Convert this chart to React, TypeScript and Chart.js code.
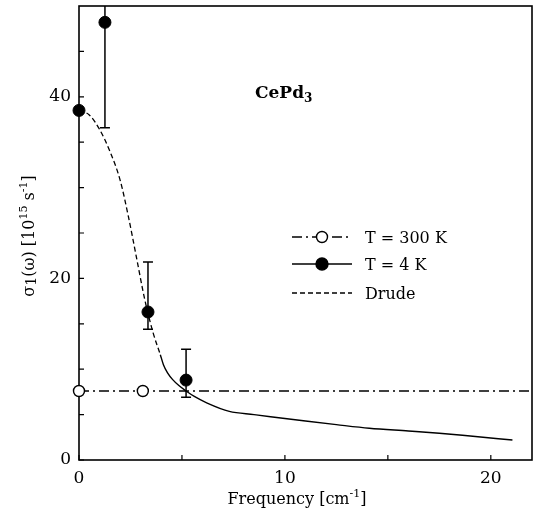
import React, { useEffect, useRef } from 'react';
import { Chart, registerables } from 'chart.js';

Chart.register(...registerables);

// Optical conductivity of CePd3: far-infrared points at 300 K and 4 K,
// the Drude fit at the lowest frequencies and the 4 K curve above it.
const freq300K = [0, 3.1];
const sigma300K = [7.6, 7.6];

const freq4K = [0, 1.26, 3.35, 5.2];
const sigma4K = [38.5, 48.2, 16.3, 8.8];
const err4KLow: (number | null)[] = [null, 36.6, 14.4, 6.9];
const err4KHigh: (number | null)[] = [null, 56, 21.8, 12.2];

const drudeFreq = [0, 0.5, 1.0, 1.5, 2.0, 2.4, 2.8, 3.2, 3.6, 3.95];
const drudeSigma = [38.5, 38.0, 36.4, 34.0, 30.8, 26.8, 22.2, 17.6, 14.0, 11.6];

const curve4KFreq = [3.95, 4.1, 4.3, 4.55, 4.85, 5.2, 5.6, 6.2, 7.3, 8.5, 9.3, 11, 12.5, 14.1, 16, 17.5, 19, 21.05];
const curve4KSigma = [11.6, 10.5, 9.6, 8.85, 8.2, 7.6, 7.0, 6.3, 5.35, 5.0, 4.77, 4.3, 3.9, 3.5, 3.2, 2.95, 2.64, 2.2];

const xMin = 0;
const xMax = 22;
const yMin = 0;
const yMax = 50;
const xMajorTicks = [0, 10, 20];
const yMajorTicks = [0, 20, 40];
const xMinorTicks = [5, 15];
const yMinorTicks = [5, 10, 15, 25, 30, 35, 45];

const FAMILY = "'DejaVu Serif', 'Liberation Serif', serif";
const DASH_DOT = [10, 4, 2, 4];
const DRUDE_DASH = [5, 3];

type Seg = { t: string; size: number; dy: number; bold?: boolean };

function drawRich(ctx: CanvasRenderingContext2D, segs: Seg[], x: number, y: number, align: 'left' | 'center') {
  const widths = segs.map((s) => {
    ctx.font = `${s.bold ? 'bold ' : ''}${s.size}px ${FAMILY}`;
    return ctx.measureText(s.t).width;
  });
  const total = widths.reduce((a, b) => a + b, 0);
  let cx = align === 'center' ? x - total / 2 : x;
  ctx.textAlign = 'left';
  ctx.textBaseline = 'alphabetic';
  segs.forEach((s, i) => {
    ctx.font = `${s.bold ? 'bold ' : ''}${s.size}px ${FAMILY}`;
    ctx.fillText(s.t, cx, y + s.dy);
    cx += widths[i];
  });
}

// Plot frame and inward tick marks, drawn under the data.
const framePlugin = {
  id: 'frame',
  beforeDatasetsDraw(chart: any) {
    const { ctx, chartArea, scales } = chart;
    const { left, right, top, bottom } = chartArea;
    ctx.save();
    ctx.strokeStyle = '#000';
    ctx.lineWidth = 1.6;
    ctx.strokeRect(left, top, right - left, bottom - top);
    ctx.lineWidth = 1.2;
    ctx.beginPath();
    [...xMajorTicks, ...xMinorTicks].forEach((v) => {
      const px = scales.x.getPixelForValue(v);
      ctx.moveTo(px, bottom);
      ctx.lineTo(px, bottom - 5);
    });
    [...yMajorTicks, ...yMinorTicks].forEach((v) => {
      const py = scales.y.getPixelForValue(v);
      ctx.moveTo(left, py);
      ctx.lineTo(left + 5, py);
    });
    ctx.stroke();
    ctx.restore();
  },
};

// Vertical error bars with caps on the 4 K points.
const errorBarPlugin = {
  id: 'errorBars',
  afterDatasetsDraw(chart: any) {
    const { ctx, chartArea, scales } = chart;
    ctx.save();
    ctx.beginPath();
    ctx.rect(chartArea.left, chartArea.top, chartArea.right - chartArea.left, chartArea.bottom - chartArea.top);
    ctx.clip();
    ctx.strokeStyle = '#000';
    ctx.lineWidth = 1.5;
    ctx.beginPath();
    freq4K.forEach((f, i) => {
      const lo = err4KLow[i];
      const hi = err4KHigh[i];
      if (lo == null || hi == null) return;
      const px = scales.x.getPixelForValue(f);
      const yl = scales.y.getPixelForValue(lo);
      const yh = scales.y.getPixelForValue(hi);
      ctx.moveTo(px, yl);
      ctx.lineTo(px, yh);
      ctx.moveTo(px - 5, yl);
      ctx.lineTo(px + 5, yl);
      ctx.moveTo(px - 5, yh);
      ctx.lineTo(px + 5, yh);
    });
    ctx.stroke();
    ctx.restore();
  },
};

// Axis titles, compound label and the in-plot legend.
const annotationPlugin = {
  id: 'annotations',
  afterDraw(chart: any) {
    const { ctx } = chart;
    ctx.save();
    ctx.fillStyle = '#000';

    drawRich(
      ctx,
      [
        { t: 'Frequency [cm', size: 16, dy: 0 },
        { t: '-1', size: 11, dy: -7 },
        { t: ']', size: 16, dy: 0 },
      ],
      297,
      504,
      'center'
    );

    ctx.save();
    ctx.translate(34, 236);
    ctx.rotate(-Math.PI / 2);
    drawRich(
      ctx,
      [
        { t: 'σ', size: 16, dy: 0 },
        { t: '1', size: 14, dy: 2 },
        { t: '(ω) [10', size: 16, dy: 0 },
        { t: '15', size: 11, dy: -7 },
        { t: ' s', size: 16, dy: 0 },
        { t: '-1', size: 11, dy: -7 },
        { t: ']', size: 16, dy: 0 },
      ],
      0,
      0,
      'center'
    );
    ctx.restore();

    drawRich(
      ctx,
      [
        { t: 'CePd', size: 17, dy: 0, bold: true },
        { t: '3', size: 12, dy: 4, bold: true },
      ],
      255,
      98,
      'left'
    );

    // legend
    const lineX0 = 292;
    const lineX1 = 352;
    const markX = 322;
    const textX = 365;
    const rows = [
      { y: 237, label: chart.data.datasets[1].label, dash: DASH_DOT, marker: 'open' },
      { y: 264, label: chart.data.datasets[0].label, dash: [] as number[], marker: 'filled' },
      { y: 293, label: chart.data.datasets[2].label, dash: DRUDE_DASH, marker: 'none' },
    ];
    rows.forEach((r) => {
      ctx.strokeStyle = '#000';
      ctx.lineWidth = 1.4;
      ctx.setLineDash(r.dash);
      ctx.beginPath();
      ctx.moveTo(lineX0, r.y);
      ctx.lineTo(lineX1, r.y);
      ctx.stroke();
      ctx.setLineDash([]);
      if (r.marker !== 'none') {
        ctx.beginPath();
        ctx.arc(markX, r.y, r.marker === 'open' ? 5.5 : 6, 0, Math.PI * 2);
        ctx.fillStyle = r.marker === 'open' ? '#fff' : '#000';
        ctx.fill();
        ctx.stroke();
      }
      ctx.fillStyle = '#000';
      ctx.font = `16px ${FAMILY}`;
      ctx.textAlign = 'left';
      ctx.textBaseline = 'alphabetic';
      ctx.fillText(r.label, textX, r.y + 6);
    });

    ctx.restore();
  },
};

export default function App() {
  const canvasRef = useRef<HTMLCanvasElement | null>(null);

  useEffect(() => {
    const canvas = canvasRef.current;
    if (!canvas) return;

    const points4K = freq4K.map((x, i) => ({ x, y: sigma4K[i] }));
    const points300K = freq300K.map((x, i) => ({ x, y: sigma300K[i] }));
    // the 300 K level continues across the whole frequency range
    const line300K = [...points300K, { x: xMax, y: sigma300K[sigma300K.length - 1] }];
    const drude = drudeFreq.map((x, i) => ({ x, y: drudeSigma[i] }));
    const curve4K = curve4KFreq.map((x, i) => ({ x, y: curve4KSigma[i] }));

    const chart = new Chart(canvas, {
      type: 'scatter',
      data: {
        datasets: [
          {
            label: 'T = 4 K',
            data: points4K,
            showLine: false,
            pointRadius: 6,
            pointBackgroundColor: '#000',
            pointBorderColor: '#000',
            pointBorderWidth: 1,
            clip: false,
          },
          {
            label: 'T = 300 K',
            data: line300K,
            showLine: true,
            borderColor: '#000',
            borderWidth: 1.4,
            borderDash: DASH_DOT,
            pointRadius: line300K.map((_, i) => (i < points300K.length ? 5.5 : 0)),
            pointBackgroundColor: '#fff',
            pointBorderColor: '#000',
            pointBorderWidth: 1.4,
            clip: false,
          },
          {
            label: 'Drude',
            data: drude,
            showLine: true,
            borderColor: '#000',
            borderWidth: 1.3,
            borderDash: DRUDE_DASH,
            pointRadius: 0,
            cubicInterpolationMode: 'monotone',
          },
          {
            label: 'T = 4 K curve',
            data: curve4K,
            showLine: true,
            borderColor: '#000',
            borderWidth: 1.4,
            pointRadius: 0,
            cubicInterpolationMode: 'monotone',
          },
        ],
      } as any,
      options: {
        animation: false,
        responsive: false,
        devicePixelRatio: 1,
        layout: { autoPadding: false, padding: { left: 0, right: 4, top: 6, bottom: 0 } },
        plugins: { legend: { display: false }, tooltip: { enabled: false } },
        scales: {
          x: {
            type: 'linear',
            min: xMin,
            max: xMax,
            afterFit: (s: any) => {
              s.height = 56;
              s.paddingLeft = 0;
              s.paddingRight = 0;
            },
            grid: { display: false, drawTicks: false },
            border: { display: false },
            ticks: {
              stepSize: 5,
              autoSkip: false,
              maxRotation: 0,
              padding: 8,
              color: '#000',
              font: { family: FAMILY, size: 17 },
              callback: (v: any) => (xMajorTicks.includes(Number(v)) ? String(v) : ''),
            },
          },
          y: {
            type: 'linear',
            min: yMin,
            max: yMax,
            afterFit: (s: any) => {
              s.width = 79;
              s.paddingTop = 0;
              s.paddingBottom = 0;
            },
            grid: { display: false, drawTicks: false },
            border: { display: false },
            ticks: {
              stepSize: 5,
              autoSkip: false,
              padding: 8,
              color: '#000',
              font: { family: FAMILY, size: 17 },
              callback: (v: any) => (yMajorTicks.includes(Number(v)) ? String(v) : ''),
            },
          },
        },
      } as any,
      plugins: [framePlugin, errorBarPlugin, annotationPlugin],
    });

    return () => chart.destroy();
  }, []);

  return (
    <div style={{ position: 'fixed', left: 0, top: 0, width: 536, height: 516, background: '#fff' }}>
      <canvas ref={canvasRef} width={536} height={516} style={{ width: 536, height: 516, display: 'block' }} />
    </div>
  );
}
